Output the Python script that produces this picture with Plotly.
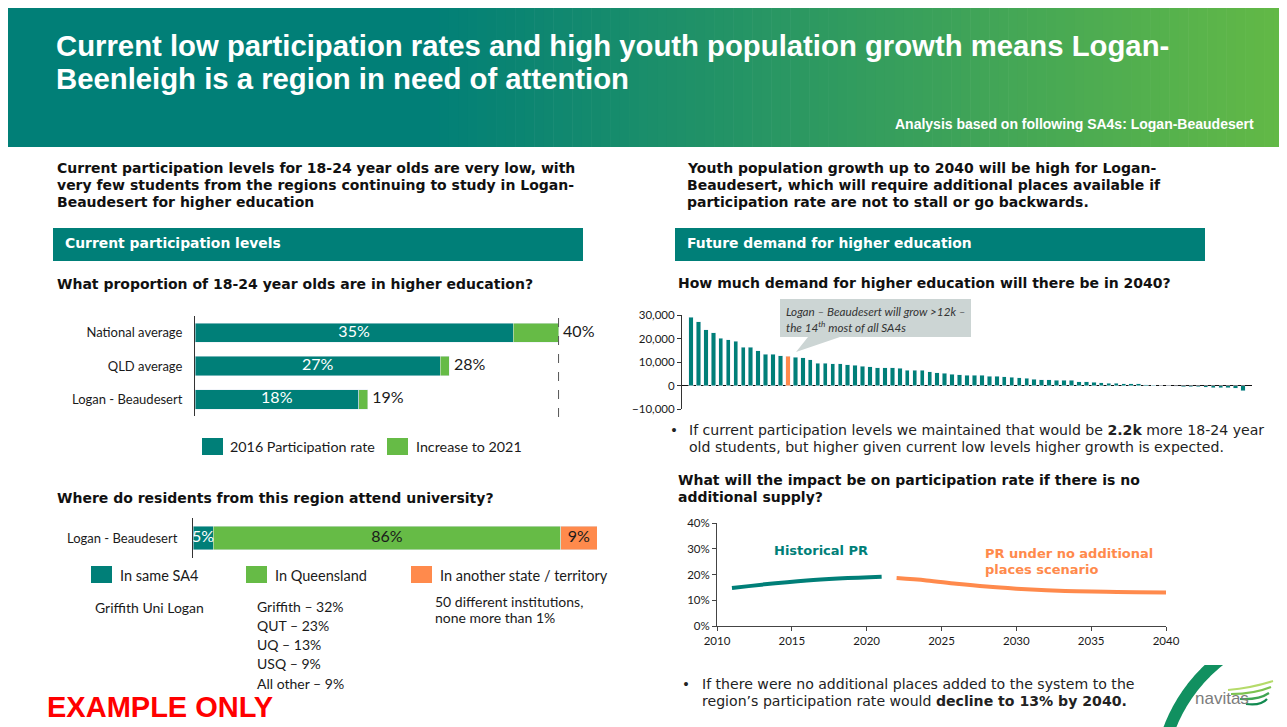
import math
import plotly.graph_objects as go

# page body keeps an 8px margin, so the figure is 8px smaller and reference pixels are shifted by 8
OFF = 8
W, H = 1287 - OFF, 727 - OFF

# ---------------- data ----------------
pr_categories = ["National average", "QLD average", "Logan - Beaudesert"]
pr_2016 = [35, 27, 18]
pr_increase = [5, 1, 1]

attend_category = ["Logan - Beaudesert"]
attend_same_sa4 = [5]
attend_qld = [86]
attend_other_state = [9]

growth_2040 = [29000, 27200, 23800, 22400, 20200, 19400, 18800, 16300, 16300, 14800,
               13400, 13300, 12600, 12500, 12000, 11800, 11000, 9500, 9400, 9300,
               9200, 8800, 8600, 8100, 8000, 7500, 7500, 7500, 7400, 6500,
               6500, 6400, 5800, 5500, 5300, 4800, 4600, 4450, 4300, 4300,
               4000, 3850, 3700, 3450, 3300, 3150, 2600, 2450, 2450, 2300,
               2300, 2150, 1700, 1550, 1450, 1150, 1000, 1000, 850, 850,
               700, 300, 100, 0, -100, -300, -450, -450, -600, -700,
               -850, -1000, -1000, -1150, -2300]
highlight_rank = 14

years_hist = [2011, 2016, 2021]
pr_hist = [0.148, 0.177, 0.191]
years_proj = [2022, 2024, 2026, 2028, 2030, 2032, 2034, 2036, 2038, 2040]
pr_proj = [0.186, 0.177, 0.164, 0.153, 0.145, 0.139, 0.135, 0.133, 0.131, 0.130]

y_ticks_growth = [-10000, 0, 10000, 20000, 30000]
x_ticks_years = [2010, 2015, 2020, 2025, 2030, 2035, 2040]
y_ticks_pr = [0, 0.1, 0.2, 0.3, 0.4]

# ---------------- styles ----------------
TEAL = "#007F78"
GREEN = "#66BB46"
ORANGE = "#FF8A4C"
VERD = "DejaVu Sans"
CAL = "Lato"
ARIAL = "Liberation Sans"
DARK = "#111111"
BODY = 14.0


def X(px):
    return (px - OFF) / W


def Y(py):
    return 1 - (py - OFF) / H


def rect(x0, y0, x1, y1, color, layer="below"):
    return dict(type="rect", xref="paper", yref="paper", x0=X(x0), x1=X(x1),
                y0=Y(y1), y1=Y(y0), fillcolor=color, line=dict(width=0), layer=layer)


def text(x, y, s, size=BODY, color=DARK, family=VERD, anchor="left"):
    return dict(xref="paper", yref="paper", x=X(x), y=Y(y), text=s, showarrow=False,
                xanchor=anchor, yanchor="middle", align=anchor,
                font=dict(size=size, color=color, family=family))


def path(points, closed=True):
    s = "M " + " L ".join(f"{X(px):.5f},{Y(py):.5f}" for px, py in points)
    return s + (" Z" if closed else "")


fig = go.Figure()

# ---- chart 1: participation levels ----
fig.add_trace(go.Bar(y=pr_categories, x=pr_2016, orientation="h", marker_color=TEAL,
                     xaxis="x", yaxis="y", name="2016 Participation rate"))
fig.add_trace(go.Bar(y=pr_categories, x=pr_increase, orientation="h", marker_color=GREEN,
                     xaxis="x", yaxis="y", name="Increase to 2021"))
fig.add_trace(go.Scatter(y=pr_categories, x=[v / 2 for v in pr_2016], mode="text",
                         text=[f"{v}%" for v in pr_2016], textposition="middle center",
                         textfont=dict(family=CAL, size=16, color="white"),
                         xaxis="x", yaxis="y"))
totals = [a + b for a, b in zip(pr_2016, pr_increase)]
fig.add_trace(go.Scatter(y=pr_categories, x=[t + 0.5 for t in totals], mode="text",
                         text=[f"{t}%" for t in totals], textposition="middle right",
                         textfont=dict(family=CAL, size=16, color="#1a1a1a"),
                         xaxis="x", yaxis="y"))

# ---- chart 2: where attend ----
for vals, col in [(attend_same_sa4, TEAL), (attend_qld, GREEN), (attend_other_state, ORANGE)]:
    fig.add_trace(go.Bar(y=attend_category, x=vals, orientation="h", marker_color=col,
                         xaxis="x2", yaxis="y2"))
mids = []
acc = 0
for v in [attend_same_sa4[0], attend_qld[0], attend_other_state[0]]:
    mids.append(acc + v / 2)
    acc += v
fig.add_trace(go.Scatter(y=attend_category * 3, x=mids, mode="text",
                         text=[f"{attend_same_sa4[0]}%", f"{attend_qld[0]}%", f"{attend_other_state[0]}%"],
                         textposition="middle center",
                         textfont=dict(family=CAL, size=16, color=["white", "#1a1a1a", "#1a1a1a"]),
                         xaxis="x2", yaxis="y2"))

# ---- chart 3: growth bars ----
idx = list(range(len(growth_2040)))
colors = [ORANGE if i == highlight_rank - 1 else TEAL for i in idx]
fig.add_trace(go.Bar(x=idx, y=growth_2040, marker_color=colors, xaxis="x3", yaxis="y3"))

# ---- chart 4: participation rate lines ----
fig.add_trace(go.Scatter(x=years_hist, y=pr_hist, mode="lines", line=dict(color=TEAL, width=4, shape="spline"),
                         xaxis="x4", yaxis="y4"))
fig.add_trace(go.Scatter(x=years_proj, y=pr_proj, mode="lines", line=dict(color=ORANGE, width=4, shape="spline"),
                         xaxis="x4", yaxis="y4"))

shapes = []
ann = []

# header gradient
teal_rgb = (1, 127, 119)
green_rgb = (99, 185, 70)
gx0, gx1, gstart = 8, 1283, 430
shapes.append(rect(gx0, 8, gstart + 1, 147, "rgb(1,127,119)"))
n = 90
for i in range(n):
    a = gstart + (gx1 - gstart) * i / n
    b = gstart + (gx1 - gstart) * (i + 1) / n + 0.6
    t = (i + 0.5) / n
    c = tuple(int(round(teal_rgb[k] + (green_rgb[k] - teal_rgb[k]) * t)) for k in range(3))
    shapes.append(rect(a, 8, min(b, gx1), 147, f"rgb{c}"))

ann.append(text(54, 45, "<b>Current low participation rates and high youth population growth means Logan-</b>",
                size=29.3, color="white", family=ARIAL))
ann.append(text(54, 78, "<b>Beenleigh is a region in need of attention</b>", size=29.3, color="white", family=ARIAL))
ann.append(text(1256, 124, "<b>Analysis based on following SA4s: Logan-Beaudesert</b>", size=14,
                color="white", family=ARIAL, anchor="right"))

# left column texts
for yy, s in [(168, "Current participation levels for 18-24 year olds are very low, with"),
              (185, "very few students from the regions continuing to study in Logan-"),
              (202, "Beaudesert for higher education")]:
    ann.append(text(55, yy, f"<b>{s}</b>"))
shapes.append(rect(53, 228, 583, 261, TEAL))
ann.append(text(63, 243, "<b>Current participation levels</b>", size=13.9, color="white"))
ann.append(text(55, 284, "<b>What proportion of 18-24 year olds are in higher education?</b>"))

# chart1 legend
shapes.append(rect(202, 438, 223, 455, TEAL))
ann.append(text(228, 447, "2016 Participation rate", size=14.3, family=CAL, color="#1a1a1a"))
shapes.append(rect(387, 438, 408, 455, GREEN))
ann.append(text(414, 447, "Increase to 2021", size=14.3, family=CAL, color="#1a1a1a"))

# dashed 40% reference line (chart 1)
shapes.append(dict(type="line", xref="x", yref="paper", x0=totals[0], x1=totals[0],
                   y0=Y(417), y1=Y(315), line=dict(color="#555555", width=1, dash="dash")))

ann.append(text(55, 498, "<b>Where do residents from this region attend university?</b>"))

# chart2 legend
for x0, col, lab in [(91, TEAL, "In same SA4"), (246, GREEN, "In Queensland"),
                     (411, ORANGE, "In another state / territory")]:
    shapes.append(rect(x0, 566, x0 + 21, 583, col))
    ann.append(text(x0 + 27, 575, lab, size=14.5, family=CAL, color="#1a1a1a"))

ann.append(text(93, 607, "Griffith Uni Logan", size=14, family=CAL, color="#1a1a1a"))
for k, s in enumerate(["Griffith – 32%", "QUT – 23%", "UQ – 13%", "USQ – 9%", "All other – 9%"]):
    ann.append(text(255, 606 + 19.3 * k, s, size=14, family=CAL, color="#1a1a1a"))
ann.append(text(433, 601, "50 different institutions,", size=14, family=CAL, color="#1a1a1a"))
ann.append(text(433, 617, "none more than 1%", size=14, family=CAL, color="#1a1a1a"))

ann.append(text(45, 707, "<b>EXAMPLE ONLY</b>", size=29, color="#FF0000", family=ARIAL))

# right column texts
for yy, s in [(168, "Youth population growth up to 2040 will be high for Logan-"),
              (185, "Beaudesert, which will require additional places available if"),
              (202, "participation rate are not to stall or go backwards.")]:
    ann.append(text(685, yy, f"<b>{s}</b>"))
shapes.append(rect(675, 228, 1205, 261, TEAL))
ann.append(text(685, 243, "<b>Future demand for higher education</b>", size=13.9, color="white"))
ann.append(text(676, 283, "<b>How much demand for higher education will there be in 2040?</b>"))

# callout
shapes.append(dict(type="path", xref="paper", yref="paper", layer="above",
                   path=path([(780, 299), (971, 299), (971, 337), (840, 337), (796, 352), (808, 337), (780, 337)]),
                   fillcolor="#CCD5D4", line=dict(width=0)))
ann.append(text(784, 311, "<i>Logan – Beaudesert will grow >12k –</i>", size=11.7, family=CAL, color="#333333"))
ann.append(text(784, 326, "<i>the 14<sup>th</sup> most of all SA4s</i>", size=11.7, family=CAL, color="#333333"))

# bullet 1
ann.append(text(668, 430, "•", size=13.5, color="#222222", family=VERD))
ann.append(text(687, 430, "If current participation levels we maintained that would be <b>2.2k</b> more 18-24 year",
                size=14.1, color="#222222"))
ann.append(text(687, 447, "old students, but higher given current low levels higher growth is expected.",
                size=14.1, color="#222222"))

ann.append(text(676, 480, "<b>What will the impact be on participation rate if there is no</b>"))
ann.append(text(676, 497, "<b>additional supply?</b>"))

ann.append(text(772, 550, "<b>Historical PR</b>", size=13, color=TEAL))
ann.append(text(983, 553, "<b>PR under no additional</b>", size=13, color=ORANGE))
ann.append(text(983, 569, "<b>places scenario</b>", size=13, color=ORANGE))

# bullet 2
ann.append(text(680, 684, "•", size=13.5, color="#222222"))
ann.append(text(700, 684, "If there were no additional places added to the system to the", size=14.1, color="#222222"))
ann.append(text(700, 701, "region’s participation rate would <b>decline to 13% by 2040.</b>", size=14.1, color="#222222"))

# logo ring
cx, cy, ro, ri = 1318, 785, 165, 153
outer, inner = [], []
for k in range(41):
    yy = 665 + (727 - 665) * k / 40
    outer.append((cx - math.sqrt(ro ** 2 - (cy - yy) ** 2), yy))
    inner.append((cx - math.sqrt(ri ** 2 - (cy - yy) ** 2), yy))
shapes.append(dict(type="path", xref="paper", yref="paper", layer="above",
                   path=path(outer + inner[::-1]), fillcolor="#119060", line=dict(width=0)))
ann.append(text(1193, 698, "navitas", size=17, family=ARIAL, color="#7c7c7c"))
for (p0, p1, p2, col) in [((1228, 690), (1251, 688), (1273, 681), "#B5DB6A"),
                          ((1231, 694), (1254, 694), (1271, 687), "#7CC350"),
                          ((1240, 699), (1259, 700), (1269, 693), "#3FA552"),
                          ((1246, 704), (1261, 706), (1267, 699), "#118A50")]:
    shapes.append(dict(type="path", xref="paper", yref="paper", layer="above",
                       path=f"M {X(p0[0])},{Y(p0[1])} Q {X(p1[0])},{Y(p1[1])} {X(p2[0])},{Y(p2[1])}",
                       line=dict(color=col, width=2.2)))

axis_off = dict(showgrid=False, zeroline=False, showticklabels=False, showline=False, ticks="",
                automargin=False)

fig.update_layout(
    width=W, height=H, margin=dict(l=0, r=0, t=0, b=0, pad=0, autoexpand=False),
    autosize=False,
    paper_bgcolor="white", plot_bgcolor="rgba(0,0,0,0)",
    showlegend=False, barmode="stack", bargap=0.42,
    shapes=shapes, annotations=ann,
    xaxis=dict(domain=[X(195), X(604)], range=[0, 45], anchor="y", **axis_off),
    yaxis=dict(domain=[Y(416), Y(316)], anchor="x", type="category", autorange="reversed",
               showgrid=False, zeroline=False, showline=True, linecolor="#333333", linewidth=1,
               automargin=False,
               ticks="", ticklabelstandoff=9, tickfont=dict(family=CAL, size=13, color="#1a1a1a")),
    xaxis2=dict(domain=[X(193), X(597)], range=[0, 100], anchor="y2", **axis_off),
    yaxis2=dict(domain=[Y(558), Y(518)], anchor="x2", type="category",
                showgrid=False, zeroline=False, showline=True, linecolor="#333333", linewidth=1,
                automargin=False,
                ticks="", ticklabelstandoff=12, tickfont=dict(family=CAL, size=13, color="#1a1a1a")),
    xaxis3=dict(domain=[X(682), X(1252)], range=[-1.2, 75.2], anchor="y3", **axis_off),
    yaxis3=dict(domain=[Y(409), Y(315)], anchor="x3", range=[-10000, 30000], tickvals=y_ticks_growth,
                tickformat=",", showgrid=False, zeroline=True, zerolinecolor="#111111", zerolinewidth=1,
                automargin=False,
                showline=True, linecolor="#333333", linewidth=1, ticks="outside", ticklen=4,
                tickcolor="#333333", tickfont=dict(family=CAL, size=11.5, color="#1a1a1a")),
    xaxis4=dict(domain=[X(717), X(1166)], range=[2010, 2040], anchor="y4", tickvals=x_ticks_years,
                showgrid=False, zeroline=False, showline=True, linecolor="#444444", linewidth=1,
                automargin=False,
                ticks="outside", ticklen=4, tickcolor="#444444",
                tickfont=dict(family=CAL, size=11.5, color="#1a1a1a")),
    yaxis4=dict(domain=[Y(626), Y(523)], anchor="x4", range=[0, 0.4], tickvals=y_ticks_pr,
                tickformat=".0%", showgrid=False, zeroline=False, showline=True, linecolor="#444444",
                automargin=False,
                linewidth=1, ticks="outside", ticklen=4, tickcolor="#444444",
                tickfont=dict(family=CAL, size=11.5, color="#1a1a1a")),
)

fig.write_html("out.html")
